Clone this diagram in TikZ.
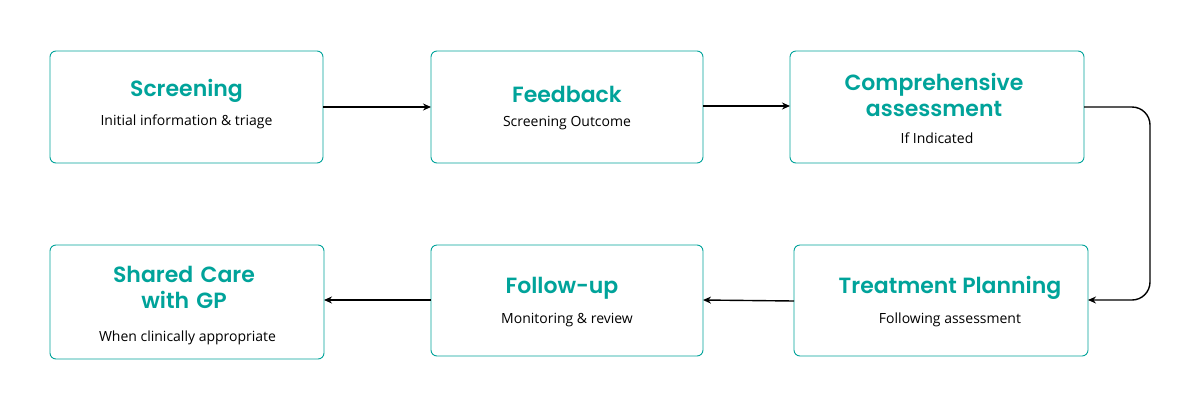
\documentclass[tikz,border=0pt]{standalone}
\usepackage{fontspec}
\setmainfont{Open Sans}
\newfontfamily\titlefont{Poppins}[BoldFont=* SemiBold]
\definecolor{teal1}{HTML}{00A39A}
\usetikzlibrary{arrows.meta}
\begin{document}
\begin{tikzpicture}[x=1pt,y=-1pt,
 box/.style={draw=teal1,line width=0.9pt,rounded corners=6pt,fill=white,align=center},
 ttl/.style={font=\titlefont\bfseries\fontsize{22}{26}\selectfont,text=teal1,align=center},
 sub/.style={font=\fontsize{14}{16}\selectfont,text=black},
 arr/.style={-{Stealth[length=8pt,width=7pt]},line width=1.4pt,black}]
\useasboundingbox (0,0) rectangle (1200,400);
\path[box] (50,51) rectangle (323,163);
\path[box] (431,51) rectangle (703,163);
\path[box] (790,51) rectangle (1084,163);
\path[box] (794,245) rectangle (1088,356);
\path[box] (431,245) rectangle (703,356);
\path[box] (50,245) rectangle (324,359);
\node[ttl] (t1) at (186.5,91) {Screening};
\node[sub] (s1) at (186.5,122) {Initial information \& triage};
\node[ttl] (t2) at (567,94) {Feedback};
\node[sub] (s2) at (567,123) {Screening Outcome};
\node[ttl,text width=280pt] (t3) at (934,95) {Comprehensive\\assessment};
\node[sub] (s3) at (937,138) {If Indicated};
\node[ttl] (t4) at (950,288) {Treatment Planning};
\node[sub] (s4) at (950,320) {Following assessment};
\node[ttl] (t5) at (562,288) {Follow-up};
\node[sub] (s5) at (567,320) {Monitoring \& review};
\node[ttl,text width=260pt] (t6) at (184,287) {Shared Care\\with GP};
\node[sub] (s6) at (187.5,338) {When clinically appropriate};
\coordinate (a1) at (323,107); \coordinate (a2) at (431,107);
\coordinate (a3) at (703,106); \coordinate (a4) at (790,106);
\coordinate (a5) at (1084,107); \coordinate (a6) at (1088,300);
\coordinate (a7) at (794,301); \coordinate (a8) at (703,300);
\coordinate (a9) at (431,300); \coordinate (a10) at (324,300);
\draw[arr] (a1) -- (a2);
\draw[arr] (a3) -- (a4);
\draw[arr,rounded corners=18pt] (a5) -- (1150,107) -- (1150,300) -- (a6);
\draw[arr] (a7) -- (a8);
\draw[arr] (a9) -- (a10);
\end{tikzpicture}
\end{document}
